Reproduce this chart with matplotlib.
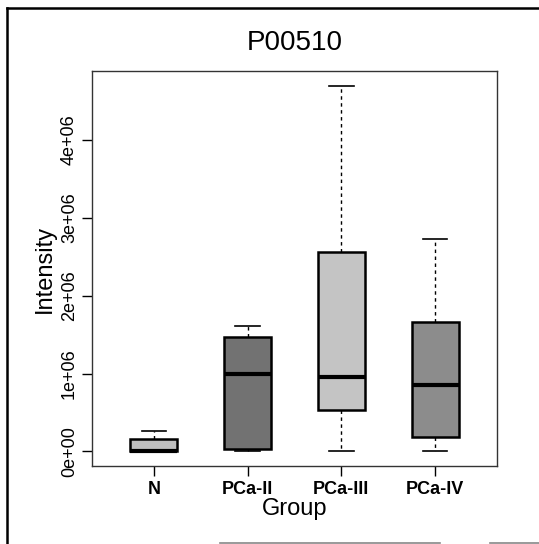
import matplotlib
matplotlib.use("Agg")
import matplotlib.pyplot as plt
from matplotlib.lines import Line2D

plt.rcParams['font.family'] = ['Liberation Sans', 'DejaVu Sans']

groups = ["N", "PCa-II", "PCa-III", "PCa-IV"]
whislo = [0.0, 0.004e6, 0.004e6, 0.0]
q1 = [0.0, 0.035e6, 0.528e6, 0.184e6]
med = [0.005e6, 1.0e6, 0.956e6, 0.85e6]
q3 = [0.163e6, 1.47e6, 2.565e6, 1.664e6]
whishi = [0.257e6, 1.613e6, 4.70e6, 2.73e6]
colors = ["#bfbfbf", "#727272", "#c4c4c4", "#8c8c8c"]
yticks = [0, 1e6, 2e6, 3e6, 4e6]
ytick_labels = ["0e+00", "1e+06", "2e+06", "3e+06", "4e+06"]

fig = plt.figure(figsize=(5.39, 5.44), dpi=100)
ax = fig.add_axes([92/539, 1-466/544, (497-92)/539, (466-71)/544])

stats = []
for i, g in enumerate(groups):
    stats.append(dict(label=g, whislo=whislo[i], q1=q1[i], med=med[i],
                      q3=q3[i], whishi=whishi[i], fliers=[]))

bp = ax.bxp(stats, positions=range(1, len(groups)+1), widths=0.5,
            patch_artist=True, showfliers=False, capwidths=0.26,
            boxprops=dict(linewidth=1.8, edgecolor="black"),
            medianprops=dict(color="black", linewidth=3),
            whiskerprops=dict(color="black", linewidth=1, linestyle=(0, (2.5, 2.5))),
            capprops=dict(color="black", linewidth=1.2))
for patch, c in zip(bp['boxes'], colors):
    patch.set_facecolor(c)

ax.set_xlim(0.34, 4.66)
ax.set_ylim(-0.188e6, 4.888e6)
ax.set_yticks(yticks)
ax.set_yticklabels(ytick_labels, rotation=90, va="center", fontsize=13)
ax.set_xticks(range(1, len(groups)+1))
ax.set_xticklabels(groups, fontsize=13, fontweight="bold")
ax.tick_params(axis="both", length=7, width=1, color="black")
ax.tick_params(axis="x", pad=4)
ax.tick_params(axis="y", pad=3)
for s in ax.spines.values():
    s.set_linewidth(1)
    s.set_color("#333333")

ax.set_xlabel("Group", fontsize=17, labelpad=0)
ax.set_ylabel("Intensity", fontsize=17, labelpad=4)
fig.text(294.5/539, 1-43/544, "P00510", fontsize=20, ha="center", va="center")

# outer frame lines
fig.add_artist(Line2D([7/539, 539/539], [1-8/544, 1-8/544], color="black", linewidth=1.8, transform=fig.transFigure))
fig.add_artist(Line2D([7/539, 7/539], [1-8/544, 0], color="black", linewidth=1.8, transform=fig.transFigure))
fig.add_artist(Line2D([220/539, 440/539], [1.5/544, 1.5/544], color="#888888", linewidth=1.2, transform=fig.transFigure))
fig.add_artist(Line2D([490/539, 539/539], [1.5/544, 1.5/544], color="#888888", linewidth=1.2, transform=fig.transFigure))

fig.savefig("out.png", dpi=100)
